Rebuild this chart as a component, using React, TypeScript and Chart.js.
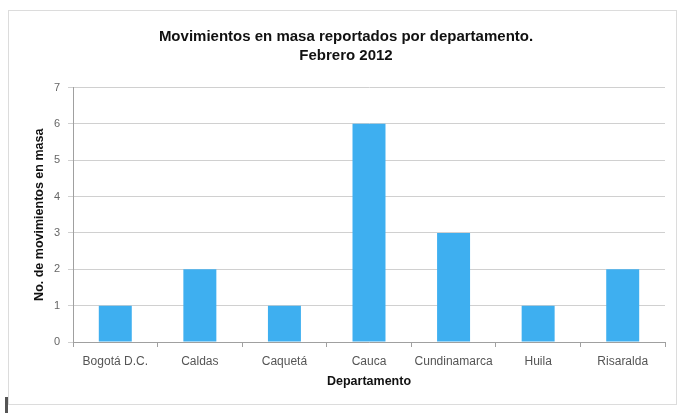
import React, { useEffect, useRef } from "react";
import { Chart, registerables } from "chart.js";

Chart.register(...registerables);

const categories = ["Bogotá D.C.", "Caldas", "Caquetá", "Cauca", "Cundinamarca", "Huila", "Risaralda"];
const values = [1, 2, 1, 6, 3, 1, 2];
const titleLines = ["Movimientos en masa reportados por departamento.", "Febrero 2012"];
const yTitle = "No. de movimientos en masa";
const xTitle = "Departamento";

export default function App() {
  const ref = useRef<HTMLCanvasElement>(null);
  useEffect(() => {
    if (!ref.current) return;
    const chart = new Chart(ref.current, {
      type: "bar",
      data: {
        labels: categories,
        datasets: [
          {
            data: values,
            backgroundColor: "#3eaff0",
            borderWidth: 0,
            barPercentage: 0.39,
            categoryPercentage: 1,
          },
        ],
      },
      options: {
        animation: false,
        responsive: false,
        devicePixelRatio: 1,
        layout: { padding: { left: 18, right: 11, top: 0, bottom: 0 } },
        plugins: {
          legend: { display: false },
          tooltip: { enabled: false },
          title: {
            display: true,
            text: titleLines,
            color: "#111",
            font: { family: "Liberation Sans", size: 15, weight: "bold", lineHeight: 19 / 15 },
            padding: { top: 16, bottom: 22.5 },
          },
        },
        scales: {
          x: {
            afterFit: (s: any) => {
              s.height = 62;
            },
            grid: { display: true, drawOnChartArea: false, offset: true, color: "#a0a0a0", tickLength: 5 },
            border: { color: "#a0a0a0" },
            ticks: { color: "#555", font: { family: "Liberation Sans", size: 12 }, padding: 7, maxRotation: 0 },
            title: {
              display: true,
              text: xTitle,
              color: "#111",
              font: { family: "Liberation Sans", size: 12.5, weight: "bold" },
              padding: { top: 14.5, bottom: 14.5 },
            },
          },
          y: {
            min: 0,
            max: 7,
            afterFit: (s: any) => {
              s.width = 46;
            },
            ticks: { stepSize: 1, color: "#666", font: { family: "Liberation Sans", size: 11 }, padding: 8 },
            grid: { color: "#d0d0d0", tickLength: 5 },
            border: { color: "#a0a0a0" },
            title: {
              display: true,
              text: yTitle,
              color: "#111",
              font: { family: "Liberation Sans", size: 12.5, weight: "bold" },
              padding: { top: 5.5, bottom: 5.5 },
            },
          },
        },
      },
    });
    return () => chart.destroy();
  }, []);
  return (
    <>
      <div style={{ position: "absolute", left: 8, top: 10, width: 669, height: 395, border: "1px solid #dcdcdc", boxSizing: "border-box", background: "#fff" }}>
        <canvas ref={ref} width={667} height={393} style={{ display: "block" }} />
      </div>
      <div style={{ position: "absolute", left: 5, top: 397, width: 3, height: 16, background: "#555" }} />
    </>
  );
}
